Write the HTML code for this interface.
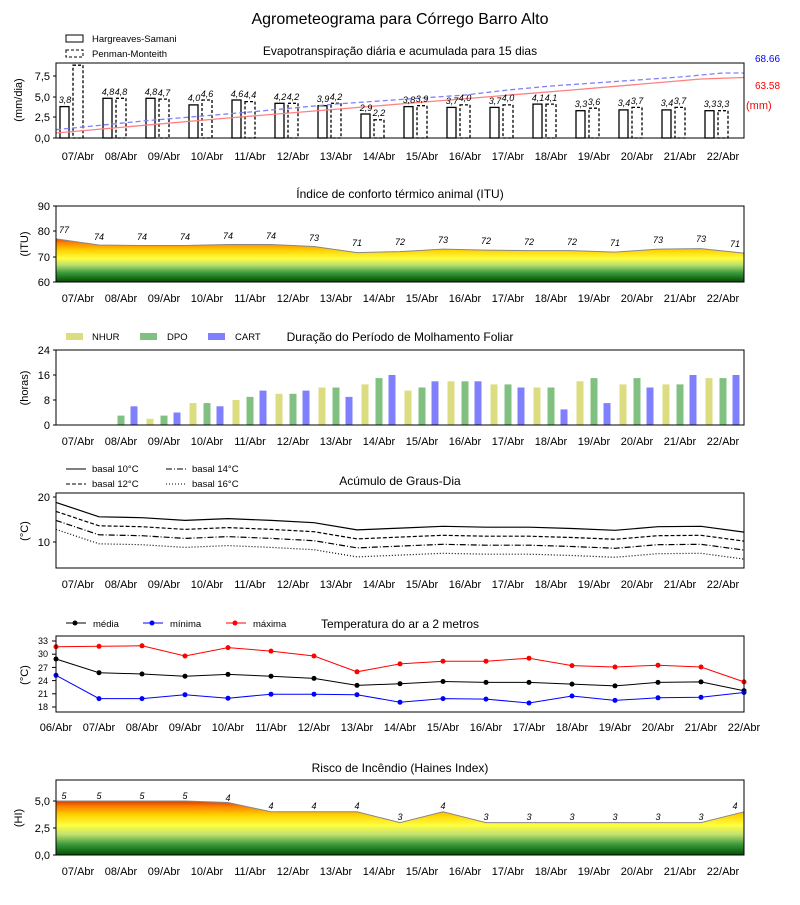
<!DOCTYPE html>
<html><head><meta charset="utf-8"><style>
body{margin:0;background:#fff}
svg{font-family:"Liberation Sans","DejaVu Sans",sans-serif}
.t{font-size:11px}
.v{font-size:9px;font-style:italic}
.s{font-size:12px}
.lg{font-size:9.5px}
</style></head><body>
<svg width="800" height="900" viewBox="0 0 800 900" xmlns="http://www.w3.org/2000/svg">
<defs>
<linearGradient id="g1" gradientUnits="userSpaceOnUse" x1="0" y1="282" x2="0" y2="235">
<stop offset="0" stop-color="#004d00"/><stop offset="0.2" stop-color="#3c9c3c"/><stop offset="0.36" stop-color="#b8e070"/><stop offset="0.5" stop-color="#ffff40"/><stop offset="0.68" stop-color="#ffd000"/><stop offset="0.84" stop-color="#ff8000"/><stop offset="1" stop-color="#d00000"/>
</linearGradient>
<linearGradient id="g2" gradientUnits="userSpaceOnUse" x1="0" y1="855" x2="0" y2="801">
<stop offset="0" stop-color="#004d00"/><stop offset="0.2" stop-color="#3c9c3c"/><stop offset="0.38" stop-color="#c0e070"/><stop offset="0.55" stop-color="#ffff40"/><stop offset="0.75" stop-color="#ffd000"/><stop offset="0.9" stop-color="#ff8000"/><stop offset="1" stop-color="#d04000"/>
</linearGradient>
</defs>
<text x="400" y="24" font-size="16" text-anchor="middle">Agrometeograma para Córrego Barro Alto</text>

<!-- Panel 1 -->
<text x="400" y="55" class="s" text-anchor="middle">Evapotranspiração diária e acumulada para 15 dias</text>
<rect x="66" y="35" width="17" height="7" fill="none" stroke="#000"/><text x="92" y="42" class="lg">Hargreaves-Samani</text>
<rect x="66" y="50" width="17" height="7" fill="none" stroke="#000" stroke-dasharray="3,2"/><text x="92" y="57" class="lg">Penman-Monteith</text>
<g fill="#fff" stroke="#000" stroke-width="1.3">
<rect x="60" y="106.6" width="9" height="31.4"/><rect x="103" y="98.3" width="9" height="39.7"/><rect x="146" y="98.3" width="9" height="39.7"/><rect x="189" y="104.9" width="9" height="33.1"/><rect x="232" y="100" width="9" height="38"/><rect x="275" y="103.3" width="9" height="34.7"/><rect x="318" y="105.7" width="9" height="32.3"/><rect x="361" y="114" width="9" height="24"/><rect x="404" y="106.6" width="9" height="31.4"/><rect x="447" y="107.4" width="9" height="30.6"/><rect x="490" y="107.4" width="9" height="30.6"/><rect x="533" y="104.1" width="9" height="33.9"/><rect x="576" y="110.7" width="9" height="27.3"/><rect x="619" y="109.9" width="9" height="28.1"/><rect x="662" y="109.9" width="9" height="28.1"/><rect x="705" y="110.7" width="9" height="27.3"/>
</g>
<g fill="#fff" stroke="#000" stroke-width="1.3" stroke-dasharray="3,2">
<rect x="73" y="65.2" width="10" height="72.8"/><rect x="116" y="98.3" width="10" height="39.7"/><rect x="159" y="99.1" width="10" height="38.9"/><rect x="202" y="100" width="10" height="38"/><rect x="245" y="101.6" width="10" height="36.4"/><rect x="288" y="103.3" width="10" height="34.7"/><rect x="331" y="103.3" width="10" height="34.7"/><rect x="374" y="119.8" width="10" height="18.2"/><rect x="417" y="105.7" width="10" height="32.3"/><rect x="460" y="104.9" width="10" height="33.1"/><rect x="503" y="104.9" width="10" height="33.1"/><rect x="546" y="104.1" width="10" height="33.9"/><rect x="589" y="108.2" width="10" height="29.8"/><rect x="632" y="107.4" width="10" height="30.6"/><rect x="675" y="107.4" width="10" height="30.6"/><rect x="718" y="110.7" width="10" height="27.3"/>
</g>
<polyline fill="none" stroke="#ff8080" stroke-width="1.3" points="56,133 228,118 400,104 572,90 701,79 744,77.5"/>
<polyline fill="none" stroke="#8080ff" stroke-width="1.3" stroke-dasharray="5,3" points="56,129.7 143,121 250,112 336,104 379,101 465,95 508,90 551,86 637,80 680,77 723,73 744,73"/>
<g class="v" text-anchor="middle">
<text x="65" y="103">3,8</text>
<text x="108" y="95">4,8</text><text x="121" y="95">4,8</text>
<text x="151" y="95">4,8</text><text x="164" y="96">4,7</text>
<text x="194" y="101">4,0</text><text x="207" y="97">4,6</text>
<text x="237" y="97">4,6</text><text x="250" y="98">4,4</text>
<text x="280" y="100">4,2</text><text x="293" y="100">4,2</text>
<text x="323" y="102">3,9</text><text x="336" y="100">4,2</text>
<text x="366" y="111">2,9</text><text x="379" y="116">2,2</text>
<text x="409" y="103">3,8</text><text x="422" y="102">3,9</text>
<text x="452" y="104">3,7</text><text x="465" y="101">4,0</text>
<text x="495" y="104">3,7</text><text x="508" y="101">4,0</text>
<text x="538" y="101">4,1</text><text x="551" y="101">4,1</text>
<text x="581" y="107">3,3</text><text x="594" y="105">3,6</text>
<text x="624" y="106">3,4</text><text x="637" y="104">3,7</text>
<text x="667" y="106">3,4</text><text x="680" y="104">3,7</text>
<text x="710" y="107">3,3</text><text x="723" y="107">3,3</text>
</g>
<text x="755" y="62" font-size="10" fill="#0000ff">68.66</text>
<text x="755" y="89" font-size="10" fill="#ff0000">63.58</text>
<text x="746" y="109" font-size="11" fill="#ff0000">(mm)</text>
<rect x="56" y="63" width="688" height="75" fill="none" stroke="#000"/>
<g class="t" text-anchor="end"><text x="50" y="80">7,5</text><text x="50" y="101">5,0</text><text x="50" y="121">2,5</text><text x="50" y="142">0,0</text></g>
<g stroke="#000"><line x1="53" x2="56" y1="76" y2="76"/><line x1="53" x2="56" y1="97" y2="97"/><line x1="53" x2="56" y1="117" y2="117"/><line x1="53" x2="56" y1="138" y2="138"/></g>
<text transform="translate(22,100) rotate(-90)" class="t" text-anchor="middle">(mm/dia)</text>
<g class="t" text-anchor="middle"><text x="78" y="160">07/Abr</text><text x="121" y="160">08/Abr</text><text x="164" y="160">09/Abr</text><text x="207" y="160">10/Abr</text><text x="250" y="160">11/Abr</text><text x="293" y="160">12/Abr</text><text x="336" y="160">13/Abr</text><text x="379" y="160">14/Abr</text><text x="422" y="160">15/Abr</text><text x="465" y="160">16/Abr</text><text x="508" y="160">17/Abr</text><text x="551" y="160">18/Abr</text><text x="594" y="160">19/Abr</text><text x="637" y="160">20/Abr</text><text x="680" y="160">21/Abr</text><text x="723" y="160">22/Abr</text></g>

<!-- Panel 2 ITU -->
<text x="400" y="198" class="s" text-anchor="middle">Índice de conforto térmico animal (ITU)</text>
<polygon fill="url(#g1)" points="56,282 56,238.9 99,245 142,245.5 185,245.5 228,244.5 271,244.5 314,246.5 357,252.6 400,251.6 443,249.1 486,250.1 529,250.6 572,250.6 615,252.1 658,249.1 701,248.6 744,253.1 744,282"/>
<polyline fill="none" stroke="#888" stroke-width="1" points="56,238.9 99,245 142,245.5 185,245.5 228,244.5 271,244.5 314,246.5 357,252.6 400,251.6 443,249.1 486,250.1 529,250.6 572,250.6 615,252.1 658,249.1 701,248.6 744,253.1"/>
<g class="v" text-anchor="middle">
<text x="64" y="233">77</text><text x="99" y="240">74</text><text x="142" y="240">74</text><text x="185" y="240">74</text><text x="228" y="239">74</text><text x="271" y="239">74</text><text x="314" y="241">73</text><text x="357" y="246">71</text><text x="400" y="245">72</text><text x="443" y="243">73</text><text x="486" y="244">72</text><text x="529" y="245">72</text><text x="572" y="245">72</text><text x="615" y="246">71</text><text x="658" y="243">73</text><text x="701" y="242">73</text><text x="735" y="247">71</text>
</g>
<rect x="56" y="206" width="688" height="76" fill="none" stroke="#000"/>
<g class="t" text-anchor="end"><text x="50" y="210">90</text><text x="50" y="235">80</text><text x="50" y="261">70</text><text x="50" y="286">60</text></g>
<g stroke="#000"><line x1="53" x2="56" y1="206" y2="206"/><line x1="53" x2="56" y1="231" y2="231"/><line x1="53" x2="56" y1="257" y2="257"/><line x1="53" x2="56" y1="282" y2="282"/></g>
<text transform="translate(28,244) rotate(-90)" class="t" text-anchor="middle">(ITU)</text>
<g class="t" text-anchor="middle"><text x="78" y="302">07/Abr</text><text x="121" y="302">08/Abr</text><text x="164" y="302">09/Abr</text><text x="207" y="302">10/Abr</text><text x="250" y="302">11/Abr</text><text x="293" y="302">12/Abr</text><text x="336" y="302">13/Abr</text><text x="379" y="302">14/Abr</text><text x="422" y="302">15/Abr</text><text x="465" y="302">16/Abr</text><text x="508" y="302">17/Abr</text><text x="551" y="302">18/Abr</text><text x="594" y="302">19/Abr</text><text x="637" y="302">20/Abr</text><text x="680" y="302">21/Abr</text><text x="723" y="302">22/Abr</text></g>

<!-- Panel 3 -->
<text x="400" y="341" class="s" text-anchor="middle">Duração do Período de Molhamento Foliar</text>
<rect x="66" y="333" width="17" height="7" fill="#dcdc80"/><text x="92" y="340" class="lg">NHUR</text>
<rect x="140" y="333" width="17" height="7" fill="#80c080"/><text x="167" y="340" class="lg">DPO</text>
<rect x="208" y="333" width="17" height="7" fill="#8080ff"/><text x="235" y="340" class="lg">CART</text>
<g fill="#dcdc80">
<rect x="146.5" y="418.8" width="7" height="6.2"/><rect x="189.5" y="403.1" width="7" height="21.9"/><rect x="232.5" y="400" width="7" height="25"/><rect x="275.5" y="393.8" width="7" height="31.2"/><rect x="318.5" y="387.5" width="7" height="37.5"/><rect x="361.5" y="384.4" width="7" height="40.6"/><rect x="404.5" y="390.6" width="7" height="34.4"/><rect x="447.5" y="381.3" width="7" height="43.7"/><rect x="490.5" y="384.4" width="7" height="40.6"/><rect x="533.5" y="387.5" width="7" height="37.5"/><rect x="576.5" y="381.3" width="7" height="43.7"/><rect x="619.5" y="384.4" width="7" height="40.6"/><rect x="662.5" y="384.4" width="7" height="40.6"/><rect x="705.5" y="378.1" width="7" height="46.9"/>
</g>
<g fill="#80c080">
<rect x="117.5" y="415.6" width="7" height="9.4"/><rect x="160.5" y="415.6" width="7" height="9.4"/><rect x="203.5" y="403.1" width="7" height="21.9"/><rect x="246.5" y="396.9" width="7" height="28.1"/><rect x="289.5" y="393.8" width="7" height="31.2"/><rect x="332.5" y="387.5" width="7" height="37.5"/><rect x="375.5" y="378.1" width="7" height="46.9"/><rect x="418.5" y="387.5" width="7" height="37.5"/><rect x="461.5" y="381.3" width="7" height="43.7"/><rect x="504.5" y="384.4" width="7" height="40.6"/><rect x="547.5" y="387.5" width="7" height="37.5"/><rect x="590.5" y="378.1" width="7" height="46.9"/><rect x="633.5" y="378.1" width="7" height="46.9"/><rect x="676.5" y="384.4" width="7" height="40.6"/><rect x="719.5" y="378.1" width="7" height="46.9"/>
</g>
<g fill="#8080ff">
<rect x="130.5" y="406.3" width="7" height="18.7"/><rect x="173.5" y="412.5" width="7" height="12.5"/><rect x="216.5" y="406.3" width="7" height="18.7"/><rect x="259.5" y="390.6" width="7" height="34.4"/><rect x="302.5" y="390.6" width="7" height="34.4"/><rect x="345.5" y="396.9" width="7" height="28.1"/><rect x="388.5" y="375" width="7" height="50"/><rect x="431.5" y="381.3" width="7" height="43.7"/><rect x="474.5" y="381.3" width="7" height="43.7"/><rect x="517.5" y="387.5" width="7" height="37.5"/><rect x="560.5" y="409.4" width="7" height="15.6"/><rect x="603.5" y="403.1" width="7" height="21.9"/><rect x="646.5" y="387.5" width="7" height="37.5"/><rect x="689.5" y="375" width="7" height="50"/><rect x="732.5" y="375" width="7" height="50"/>
</g>
<rect x="56" y="350" width="688" height="75" fill="none" stroke="#000"/>
<g class="t" text-anchor="end"><text x="50" y="354">24</text><text x="50" y="379">16</text><text x="50" y="404">8</text><text x="50" y="429">0</text></g>
<g stroke="#000"><line x1="53" x2="56" y1="350" y2="350"/><line x1="53" x2="56" y1="375" y2="375"/><line x1="53" x2="56" y1="400" y2="400"/><line x1="53" x2="56" y1="425" y2="425"/></g>
<text transform="translate(28,388) rotate(-90)" class="t" text-anchor="middle">(horas)</text>
<g class="t" text-anchor="middle"><text x="78" y="445">07/Abr</text><text x="121" y="445">08/Abr</text><text x="164" y="445">09/Abr</text><text x="207" y="445">10/Abr</text><text x="250" y="445">11/Abr</text><text x="293" y="445">12/Abr</text><text x="336" y="445">13/Abr</text><text x="379" y="445">14/Abr</text><text x="422" y="445">15/Abr</text><text x="465" y="445">16/Abr</text><text x="508" y="445">17/Abr</text><text x="551" y="445">18/Abr</text><text x="594" y="445">19/Abr</text><text x="637" y="445">20/Abr</text><text x="680" y="445">21/Abr</text><text x="723" y="445">22/Abr</text></g>

<!-- Panel 4 -->
<text x="400" y="485" class="s" text-anchor="middle">Acúmulo de Graus-Dia</text>
<line x1="66" x2="86" y1="469" y2="469" stroke="#000"/><text x="92" y="472" class="lg">basal 10°C</text>
<line x1="66" x2="86" y1="484" y2="484" stroke="#000" stroke-dasharray="4,2"/><text x="92" y="487" class="lg">basal 12°C</text>
<line x1="166" x2="186" y1="469" y2="469" stroke="#000" stroke-dasharray="6,2,1,2"/><text x="192" y="472" class="lg">basal 14°C</text>
<line x1="166" x2="186" y1="484" y2="484" stroke="#000" stroke-dasharray="1,2"/><text x="192" y="487" class="lg">basal 16°C</text>
<g fill="none" stroke="#000" stroke-width="1.2">
<polyline points="56,502.4 99,516.8 142,517.7 185,520.4 228,518.6 271,520.4 314,522.7 357,529.9 400,528.1 443,526.3 486,527.2 529,527.2 572,528.5 615,530.3 658,526.7 701,526.3 744,532.1"/>
<polyline stroke-dasharray="4,2" points="56,511.4 99,525.8 142,526.7 185,529.4 228,527.6 271,529.4 314,531.7 357,538.9 400,537.1 443,535.3 486,536.2 529,536.2 572,537.5 615,539.3 658,535.7 701,535.3 744,541.1"/>
<polyline stroke-dasharray="6,2,1,2" points="56,520.4 99,534.8 142,535.7 185,538.4 228,536.6 271,538.4 314,540.7 357,547.9 400,546.1 443,544.3 486,545.2 529,545.2 572,546.5 615,548.3 658,544.7 701,544.3 744,550.1"/>
<polyline stroke-dasharray="1,2" points="56,529.4 99,543.8 142,544.7 185,547.4 228,545.6 271,547.4 314,549.7 357,556.9 400,555.1 443,553.3 486,554.2 529,554.2 572,555.5 615,557.3 658,553.7 701,553.3 744,559.1"/>
</g>
<rect x="56" y="493" width="688" height="75" fill="none" stroke="#000"/>
<g class="t" text-anchor="end"><text x="50" y="501">20</text><text x="50" y="546">10</text></g>
<g stroke="#000"><line x1="53" x2="56" y1="497" y2="497"/><line x1="53" x2="56" y1="542" y2="542"/></g>
<text transform="translate(28,531) rotate(-90)" class="t" text-anchor="middle">(°C)</text>
<g class="t" text-anchor="middle"><text x="78" y="588">07/Abr</text><text x="121" y="588">08/Abr</text><text x="164" y="588">09/Abr</text><text x="207" y="588">10/Abr</text><text x="250" y="588">11/Abr</text><text x="293" y="588">12/Abr</text><text x="336" y="588">13/Abr</text><text x="379" y="588">14/Abr</text><text x="422" y="588">15/Abr</text><text x="465" y="588">16/Abr</text><text x="508" y="588">17/Abr</text><text x="551" y="588">18/Abr</text><text x="594" y="588">19/Abr</text><text x="637" y="588">20/Abr</text><text x="680" y="588">21/Abr</text><text x="723" y="588">22/Abr</text></g>

<!-- Panel 5 -->
<text x="400" y="628" class="s" text-anchor="middle">Temperatura do ar a 2 metros</text>
<line x1="66" x2="86" y1="623" y2="623" stroke="#000"/><circle cx="75" cy="623" r="2.5" fill="#000"/><text x="93" y="627" class="lg">média</text>
<line x1="143" x2="163" y1="623" y2="623" stroke="#00f"/><circle cx="152" cy="623" r="2.5" fill="#00f"/><text x="170" y="627" class="lg">mínima</text>
<line x1="226" x2="246" y1="623" y2="623" stroke="#f00"/><circle cx="235" cy="623" r="2.5" fill="#f00"/><text x="253" y="627" class="lg">máxima</text>
<polyline fill="none" stroke="#f00" points="56,646.7 99,646.3 142,645.8 185,656 228,647.6 271,651.1 314,656 357,671.8 400,663.9 443,661.2 486,661.2 529,658.2 572,665.6 615,667 658,665.2 701,667 744,681.9"/>
<polyline fill="none" stroke="#000" points="56,659 99,672.7 142,674 185,676.2 228,674.4 271,676.2 314,678.4 357,685.4 400,683.7 443,681.5 486,682.4 529,682.4 572,684.1 615,685.9 658,682.4 701,681.9 744,690.7"/>
<polyline fill="none" stroke="#00f" points="56,675.3 99,698.6 142,698.6 185,694.7 228,698.2 271,694.2 314,694.2 357,694.7 400,702.2 443,698.6 486,699.1 529,703 572,696 615,700.4 658,697.8 701,697.3 744,692.5"/>
<g fill="#f00"><circle cx="56" cy="646.7" r="2.5"/><circle cx="99" cy="646.3" r="2.5"/><circle cx="142" cy="645.8" r="2.5"/><circle cx="185" cy="656" r="2.5"/><circle cx="228" cy="647.6" r="2.5"/><circle cx="271" cy="651.1" r="2.5"/><circle cx="314" cy="656" r="2.5"/><circle cx="357" cy="671.8" r="2.5"/><circle cx="400" cy="663.9" r="2.5"/><circle cx="443" cy="661.2" r="2.5"/><circle cx="486" cy="661.2" r="2.5"/><circle cx="529" cy="658.2" r="2.5"/><circle cx="572" cy="665.6" r="2.5"/><circle cx="615" cy="667" r="2.5"/><circle cx="658" cy="665.2" r="2.5"/><circle cx="701" cy="667" r="2.5"/><circle cx="744" cy="681.9" r="2.5"/></g>
<g fill="#000"><circle cx="56" cy="659" r="2.5"/><circle cx="99" cy="672.7" r="2.5"/><circle cx="142" cy="674" r="2.5"/><circle cx="185" cy="676.2" r="2.5"/><circle cx="228" cy="674.4" r="2.5"/><circle cx="271" cy="676.2" r="2.5"/><circle cx="314" cy="678.4" r="2.5"/><circle cx="357" cy="685.4" r="2.5"/><circle cx="400" cy="683.7" r="2.5"/><circle cx="443" cy="681.5" r="2.5"/><circle cx="486" cy="682.4" r="2.5"/><circle cx="529" cy="682.4" r="2.5"/><circle cx="572" cy="684.1" r="2.5"/><circle cx="615" cy="685.9" r="2.5"/><circle cx="658" cy="682.4" r="2.5"/><circle cx="701" cy="681.9" r="2.5"/><circle cx="744" cy="690.7" r="2.5"/></g>
<g fill="#00f"><circle cx="56" cy="675.3" r="2.5"/><circle cx="99" cy="698.6" r="2.5"/><circle cx="142" cy="698.6" r="2.5"/><circle cx="185" cy="694.7" r="2.5"/><circle cx="228" cy="698.2" r="2.5"/><circle cx="271" cy="694.2" r="2.5"/><circle cx="314" cy="694.2" r="2.5"/><circle cx="357" cy="694.7" r="2.5"/><circle cx="400" cy="702.2" r="2.5"/><circle cx="443" cy="698.6" r="2.5"/><circle cx="486" cy="699.1" r="2.5"/><circle cx="529" cy="703" r="2.5"/><circle cx="572" cy="696" r="2.5"/><circle cx="615" cy="700.4" r="2.5"/><circle cx="658" cy="697.8" r="2.5"/><circle cx="701" cy="697.3" r="2.5"/><circle cx="744" cy="692.5" r="2.5"/></g>
<rect x="56" y="636" width="688" height="76" fill="none" stroke="#000"/>
<g font-size="9" text-anchor="end"><text x="48" y="644">33</text><text x="48" y="657">30</text><text x="48" y="671">27</text><text x="48" y="684">24</text><text x="48" y="697">21</text><text x="48" y="710">18</text></g>
<g stroke="#000"><line x1="52" x2="56" y1="641" y2="641"/><line x1="52" x2="56" y1="654.2" y2="654.2"/><line x1="52" x2="56" y1="667.4" y2="667.4"/><line x1="52" x2="56" y1="680.6" y2="680.6"/><line x1="52" x2="56" y1="693.8" y2="693.8"/><line x1="52" x2="56" y1="707" y2="707"/></g>
<text transform="translate(28,675) rotate(-90)" class="t" text-anchor="middle">(°C)</text>
<g class="t" text-anchor="middle"><text x="56" y="731">06/Abr</text><text x="99" y="731">07/Abr</text><text x="142" y="731">08/Abr</text><text x="185" y="731">09/Abr</text><text x="228" y="731">10/Abr</text><text x="271" y="731">11/Abr</text><text x="314" y="731">12/Abr</text><text x="357" y="731">13/Abr</text><text x="400" y="731">14/Abr</text><text x="443" y="731">15/Abr</text><text x="486" y="731">16/Abr</text><text x="529" y="731">17/Abr</text><text x="572" y="731">18/Abr</text><text x="615" y="731">19/Abr</text><text x="658" y="731">20/Abr</text><text x="701" y="731">21/Abr</text><text x="744" y="731">22/Abr</text></g>

<!-- Panel 6 -->
<text x="400" y="772" class="s" text-anchor="middle">Risco de Incêndio (Haines Index)</text>
<polygon fill="url(#g2)" points="56,855 56,801 99,801 142,801 185,801 228,802.5 271,811.8 314,811.8 357,811.8 400,822.6 443,811.8 486,822.6 529,822.6 572,822.6 615,822.6 658,822.6 701,822.6 744,811.8 744,855"/>
<polyline fill="none" stroke="#888" points="56,801 99,801 142,801 185,801 228,802.5 271,811.8 314,811.8 357,811.8 400,822.6 443,811.8 486,822.6 529,822.6 572,822.6 615,822.6 658,822.6 701,822.6 744,811.8"/>
<g class="v" text-anchor="middle"><text x="64" y="799">5</text><text x="99" y="799">5</text><text x="142" y="799">5</text><text x="185" y="799">5</text><text x="228" y="801">4</text><text x="271" y="809">4</text><text x="314" y="809">4</text><text x="357" y="809">4</text><text x="400" y="820">3</text><text x="443" y="809">4</text><text x="486" y="820">3</text><text x="529" y="820">3</text><text x="572" y="820">3</text><text x="615" y="820">3</text><text x="658" y="820">3</text><text x="701" y="820">3</text><text x="735" y="809">4</text></g>
<rect x="56" y="780" width="688" height="75" fill="none" stroke="#000"/>
<g class="t" text-anchor="end"><text x="50" y="805">5,0</text><text x="50" y="832">2,5</text><text x="50" y="859">0,0</text></g>
<g stroke="#000"><line x1="53" x2="56" y1="801" y2="801"/><line x1="53" x2="56" y1="828" y2="828"/><line x1="53" x2="56" y1="855" y2="855"/></g>
<text transform="translate(22,818) rotate(-90)" class="t" text-anchor="middle">(HI)</text>
<g class="t" text-anchor="middle"><text x="78" y="875">07/Abr</text><text x="121" y="875">08/Abr</text><text x="164" y="875">09/Abr</text><text x="207" y="875">10/Abr</text><text x="250" y="875">11/Abr</text><text x="293" y="875">12/Abr</text><text x="336" y="875">13/Abr</text><text x="379" y="875">14/Abr</text><text x="422" y="875">15/Abr</text><text x="465" y="875">16/Abr</text><text x="508" y="875">17/Abr</text><text x="551" y="875">18/Abr</text><text x="594" y="875">19/Abr</text><text x="637" y="875">20/Abr</text><text x="680" y="875">21/Abr</text><text x="723" y="875">22/Abr</text></g>
</svg>
</body></html>
